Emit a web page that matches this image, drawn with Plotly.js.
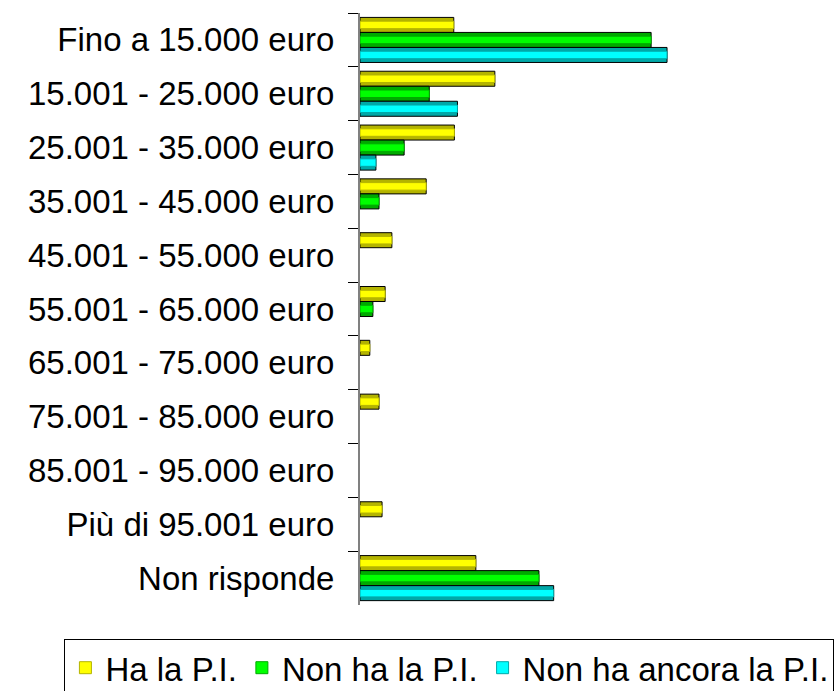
<!DOCTYPE html>
<html>
<head>
<meta charset="utf-8">
<script src="https://cdn.plot.ly/plotly-3.0.1.min.js"></script>
<style>html,body{margin:0;padding:0;background:#fff;}#chart{width:835px;height:691px;}</style>
</head>
<body>
<div id="chart"></div>
<script>
const categories = [
  "Fino a 15.000 euro",
  "15.001 - 25.000 euro",
  "25.001 - 35.000 euro",
  "35.001 - 45.000 euro",
  "45.001 - 55.000 euro",
  "55.001 - 65.000 euro",
  "65.001 - 75.000 euro",
  "75.001 - 85.000 euro",
  "85.001 - 95.000 euro",
  "Più di 95.001 euro",
  "Non risponde"
];
const seriesNames = ["Ha la P.I.", "Non ha la P.I.", "Non ha ancora la P.I."];
const haPI        = [15.3, 22.0, 15.4, 10.8, 5.2, 4.1, 1.6, 3.1, 0, 3.6, 18.9];
const nonHaPI     = [47.5, 11.3, 7.2, 3.1, 0, 2.1, 0, 0, 0, 0, 29.2];
const nonHaAncora = [50.1, 15.9, 2.6, 0, 0, 0, 0, 0, 0, 0, 31.6];

const seriesValues = [haPI, nonHaPI, nonHaAncora];
const brightColors = ["#FFFF00", "#00FF00", "#00FFFF"];
const darkColors   = ["#B4B400", "#00AA00", "#00A8A8"];

const barW = 0.279;
const groupStart = -0.418;
const traces = [];
seriesValues.forEach((vals, i) => {
  const off = groupStart + i * barW;
  const xs = vals.map(v => (v === 0 ? null : v));
  traces.push({
    type: "bar", orientation: "h", y: categories, x: xs,
    offset: off, width: barW, showlegend: false, hoverinfo: "skip",
    marker: {color: darkColors[i], line: {color: "#000000", width: 1}}
  });
  traces.push({
    type: "bar", orientation: "h", y: categories, x: xs, name: seriesNames[i],
    offset: off + barW * 0.25, width: barW * 0.5, showlegend: true,
    marker: {color: brightColors[i], line: {color: darkColors[i], width: 1}}
  });
});

const layout = {
  width: 835, height: 691,
  paper_bgcolor: "#ffffff", plot_bgcolor: "#ffffff",
  barmode: "overlay",
  margin: {l: 360, r: 46, t: 13, b: 86, autoexpand: false},
  font: {family: "Liberation Sans, Arial, sans-serif", color: "#000000"},
  xaxis: {range: [0, 70], visible: false, showgrid: false, zeroline: false, fixedrange: true},
  yaxis: {
    type: "category", autorange: "reversed",
    showline: true, linecolor: "#808080", linewidth: 2,
    ticks: "outside", ticklen: 10, tickwidth: 1, tickcolor: "#000000",
    tickson: "boundaries", ticklabelstandoff: 17,
    tickfont: {size: 33, family: "Liberation Sans, Arial, sans-serif", color: "#000000"},
    showgrid: false, zeroline: false
  },
  showlegend: true,
  legend: {
    orientation: "h", x: -0.689, xanchor: "left", y: -0.057, yanchor: "top",
    bgcolor: "#ffffff", bordercolor: "#000000", borderwidth: 1,
    font: {size: 33, family: "Liberation Sans, Arial, sans-serif", color: "#000000"},
    traceorder: "normal"
  }
};

Plotly.newPlot("chart", traces, layout, {displayModeBar: false, staticPlot: true});
</script>
</body>
</html>
